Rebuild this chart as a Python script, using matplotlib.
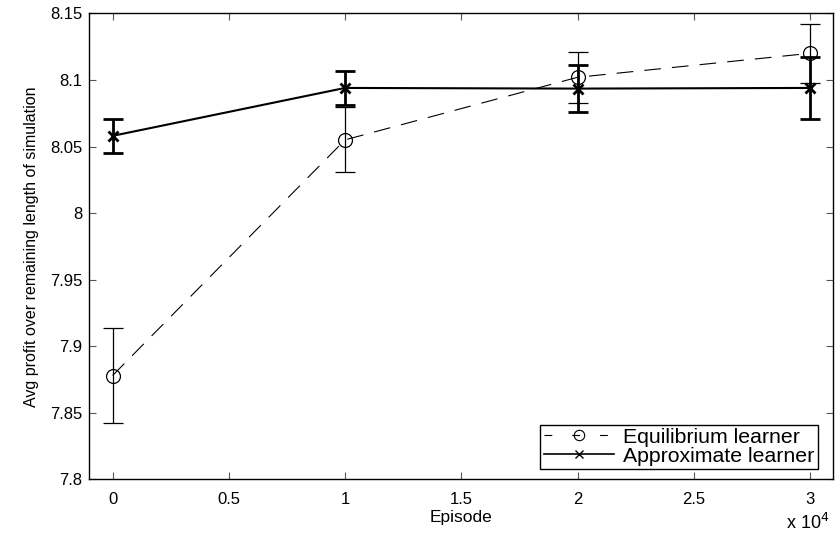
import matplotlib
matplotlib.use("Agg")
import matplotlib.pyplot as plt
from matplotlib.ticker import FuncFormatter, MultipleLocator
from matplotlib.lines import Line2D

plt.rcParams['font.family'] = ['Liberation Sans', 'DejaVu Sans']

episodes = [0, 10000, 20000, 30000]
eq_mean = [7.878, 8.055, 8.102, 8.120]
eq_err = [0.036, 0.0245, 0.019, 0.022]
ap_mean = [8.058, 8.094, 8.0935, 8.094]
ap_err = [0.0125, 0.0125, 0.0175, 0.0235]

fig = plt.figure(figsize=(8.38, 5.35), dpi=100)
ax = fig.add_axes([0.1066, 0.104, 0.8878, 0.871])

dash = (0, (15, 10))
ax.errorbar(episodes, eq_mean, yerr=eq_err, color='black', linestyle=dash,
            linewidth=0.8, marker='o', markersize=10, markerfacecolor='none',
            markeredgewidth=0.9, elinewidth=0.9, capsize=7, capthick=0.9,
            label='Equilibrium learner')
ax.errorbar(episodes, ap_mean, yerr=ap_err, color='black', linestyle='-',
            linewidth=1.5, marker='x', markersize=7, markeredgewidth=2,
            elinewidth=2, capsize=7, capthick=2,
            label='Approximate learner')

ax.set_xlim(-1000, 31000)
ax.set_ylim(7.8, 8.15)
ax.xaxis.set_major_locator(MultipleLocator(5000))
ax.yaxis.set_major_locator(MultipleLocator(0.05))
ax.xaxis.set_major_formatter(FuncFormatter(lambda v, p: f"{v/1e4:g}"))
ax.yaxis.set_major_formatter(FuncFormatter(lambda v, p: f"{v:.2f}".rstrip('0').rstrip('.')))
ax.tick_params(direction='in', top=True, right=True, length=5, width=0.8,
               color='#555555', labelsize=12)
ax.tick_params(axis='x', pad=9)
ax.tick_params(axis='y', pad=5)
for s in ax.spines.values():
    s.set_linewidth(1.0)

ax.set_xlabel('Episode', fontsize=12.5, labelpad=2)
ax.set_ylabel('Avg profit over remaining length of simulation', fontsize=11.5, labelpad=8)
fig.text(0.99, 0.022, r'x 10$^4$', ha='right', va='center', fontsize=13)

handles = [Line2D([], [], color='black', linestyle=(0, (7, 18)), linewidth=0.8,
                  marker='o', markersize=7.5, markerfacecolor='none', markeredgewidth=0.8),
           Line2D([], [], color='black', linestyle='-', linewidth=1.2,
                  marker='x', markersize=6, markeredgewidth=1)]
leg = ax.legend(handles, ['Equilibrium learner', 'Approximate learner'],
                loc='lower right', bbox_to_anchor=(0.979, 0.022), fontsize=15.3,
                frameon=True, fancybox=False, edgecolor='black', framealpha=1,
                handlelength=3.3, borderpad=0.15, labelspacing=0.0,
                handletextpad=0.45, borderaxespad=0)
leg.get_frame().set_linewidth(1.0)

fig.savefig('out.png', dpi=100)
